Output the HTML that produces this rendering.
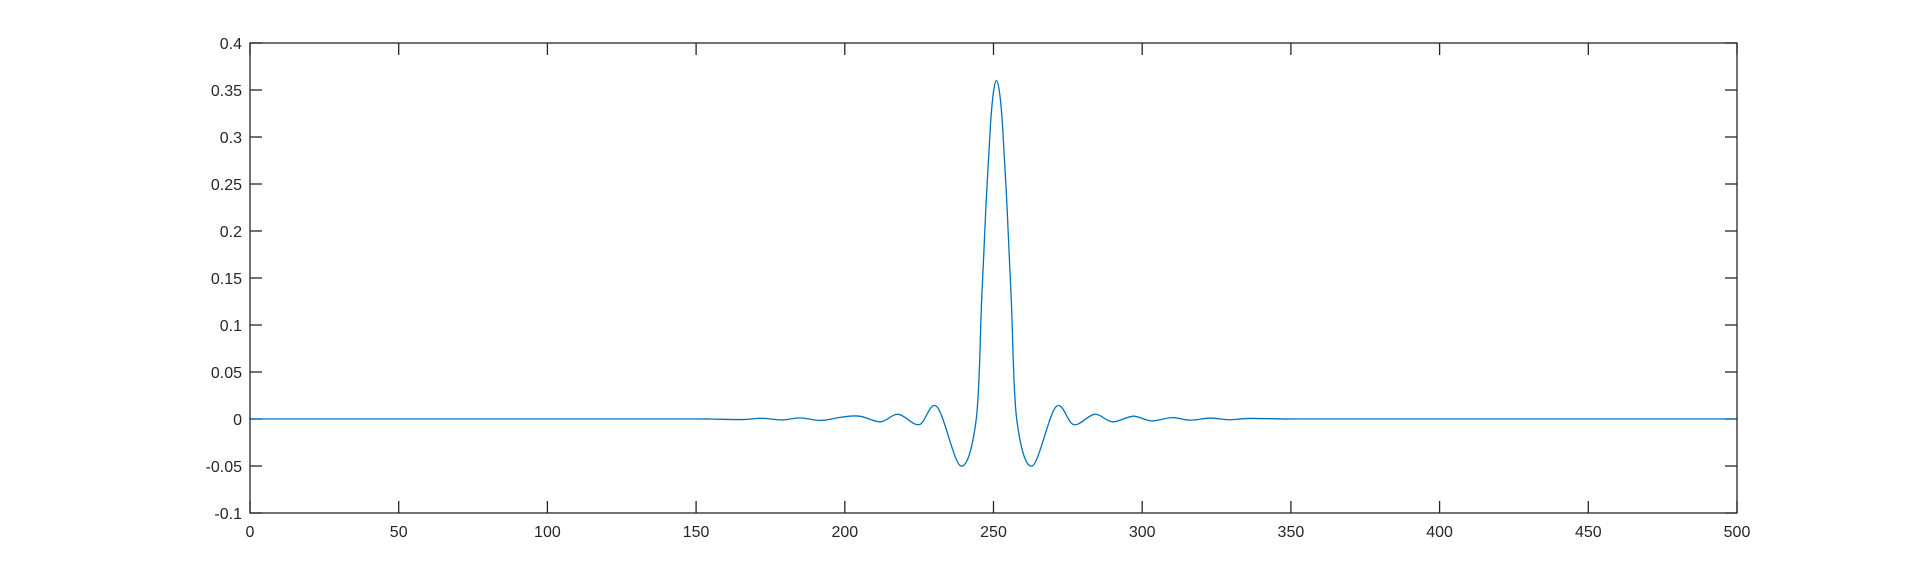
<!DOCTYPE html>
<html><head><meta charset="utf-8"><style>
html,body{margin:0;padding:0;background:#fff;}
svg{display:block;font-family:"Liberation Sans",sans-serif;}
</style></head><body>
<svg id="chart" width="1920" height="577" viewBox="0 0 1920 577" xmlns="http://www.w3.org/2000/svg">
<rect width="1920" height="577" fill="#fff"/>
<g id="ticks"></g>
<path id="series" fill="none" stroke="#0072BD" stroke-width="1.3"/>
<rect x="250" y="43" width="1487" height="470" fill="none" stroke="#262626" stroke-width="1.3"/>
</svg>
<script>
const xTicks=[0,50,100,150,200,250,300,350,400,450,500];
const yTicks=[-0.1,-0.05,0,0.05,0.1,0.15,0.2,0.25,0.3,0.35,0.4];
const yTickLabels=["-0.1","-0.05","0","0.05","0.1","0.15","0.2","0.25","0.3","0.35","0.4"];
const xs=[0,140,153,166,172,179,185,192,199,205,212,218,225,231,239,244.2,246,247.5,249,250,251,252,253,254.5,256,257.8,263,271,277,284,290,297,303,310,316,323,329,336,349,362,500];
const ys=[0,0,0,-0.0006,0.0008,-0.001,0.0012,-0.0015,0.002,0.003,-0.003,0.005,-0.006,0.013,-0.05,0,0.125,0.229,0.314,0.348,0.36,0.348,0.314,0.229,0.125,0,-0.05,0.013,-0.006,0.005,-0.003,0.003,-0.002,0.0015,-0.0012,0.001,-0.0008,0.0006,0,0,0];
const L=250,R=1737,T=43,B=513;
const sx=v=>L+(v-0)/(500-0)*(R-L);
const sy=v=>B-(v-(-0.1))/(0.4-(-0.1))*(B-T);
const NS="http://www.w3.org/2000/svg";
const g=document.getElementById('ticks');
function line(x1,y1,x2,y2,name){const l=document.createElementNS(NS,'line');l.setAttribute('x1',x1);l.setAttribute('y1',y1);l.setAttribute('x2',x2);l.setAttribute('y2',y2);l.setAttribute('stroke','#262626');l.setAttribute('stroke-width','1.3');


g.appendChild(l);}
function text(x,y,s,anchor,name){const t=document.createElementNS(NS,'text');t.setAttribute('x',x);t.setAttribute('y',y);t.setAttribute('text-anchor',anchor);t.setAttribute('font-size','16');t.setAttribute('fill','#262626');t.textContent=s;


g.appendChild(t);}
xTicks.forEach(v=>{const x=sx(v);line(x,B,x,B-12,'x-tick');line(x,T,x,T+12,'x-tick-top');text(x,B+24,String(v),'middle','x-tick-label');});
yTicks.forEach((v,i)=>{const y=sy(v);line(L,y,L+12,y,'y-tick');line(R,y,R-12,y,'y-tick-right');text(L-8,y+6,yTickLabels[i],'end','y-tick-label');});
const P=xs.map((x,i)=>[sx(x),sy(ys[i])]);
let d=`M${P[0][0]},${P[0][1]}`;
for(let i=0;i<P.length-1;i++){const p0=P[Math.max(0,i-1)],p1=P[i],p2=P[i+1],p3=P[Math.min(P.length-1,i+2)];
const c1=[p1[0]+(p2[0]-p0[0])/6,p1[1]+(p2[1]-p0[1])/6],c2=[p2[0]-(p3[0]-p1[0])/6,p2[1]-(p3[1]-p1[1])/6];
d+=` C${c1[0]},${c1[1]} ${c2[0]},${c2[1]} ${p2[0]},${p2[1]}`;}
document.getElementById('series').setAttribute('d',d);
</script>
</body></html>
